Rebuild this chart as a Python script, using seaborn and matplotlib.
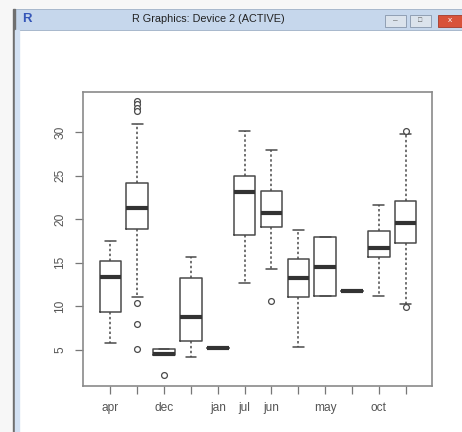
import numpy as np
import pandas as pd
import matplotlib.pyplot as plt
from matplotlib.patches import Rectangle
import seaborn as sns

sns.set_theme(style='white')
plt.rcParams['font.family'] = ['Liberation Sans', 'DejaVu Sans']

# months in R's (alphabetical) factor order
months = ['apr', 'aug', 'dec', 'feb', 'jan', 'jul', 'jun', 'mar', 'may', 'nov', 'oct', 'sep']
# labels R managed to print (the rest were dropped for overlap)
shown_labels = ['apr', '', 'dec', '', 'jan', 'jul', 'jun', '', 'may', '', 'oct', '']

# five number summaries
lo_whisker = [5.8, 11.1, 4.4, 4.15, 5.2, 12.65, 14.3, 5.26, 11.2, 11.8, 11.2, 10.2]
q1 = [9.3, 18.9, 4.4, 5.95, 5.2, 18.2, 19.1, 11.0, 11.2, 11.8, 15.6, 17.3]
median = [13.3, 21.3, 4.55, 8.75, 5.2, 23.1, 20.7, 13.2, 14.56, 11.8, 16.7, 19.6]
q3 = [15.2, 24.2, 5.07, 13.2, 5.2, 25.0, 23.2, 15.4, 18.0, 11.8, 18.7, 22.1]
hi_whisker = [17.5, 31.0, 5.07, 15.6, 5.2, 30.1, 28.0, 18.8, 18.0, 11.8, 21.6, 29.75]

# outliers
out_month = ['aug', 'aug', 'aug', 'aug', 'aug', 'aug', 'aug', 'dec', 'jun', 'sep', 'sep']
out_value = [33.6, 33.2, 32.8, 32.5, 10.4, 7.9, 5.1, 2.1, 10.6, 30.1, 9.85]

# 7 points per month: with linear quantiles q1/median/q3 come out exactly
rows = []
for i, m in enumerate(months):
    for v in [lo_whisker[i], q1[i], q1[i], median[i], q3[i], q3[i], hi_whisker[i]]:
        rows.append((m, v))
df = pd.DataFrame(rows, columns=['month', 'temp'])

fig = plt.figure(figsize=(4.62, 4.32), dpi=100)

# fake R window chrome
W, H = 462.0, 432.0
fig.patches.append(Rectangle((0, 0), 1, 1, transform=fig.transFigure, color='#f7f7f7', zorder=-10))
fig.patches.append(Rectangle((13 / W, 0), 1, (H - 9) / H, transform=fig.transFigure, color='white', zorder=-9))
fig.patches.append(Rectangle((13 / W, (H - 30) / H), 1, 21 / H, transform=fig.transFigure,
                             facecolor='#c6d7ec', edgecolor='#9fb0c6', lw=0.6, zorder=-8))
fig.patches.append(Rectangle((13 / W, 0), 1.6 / W, (H - 9) / H, transform=fig.transFigure, color='#6f6f6f', zorder=-7))
fig.patches.append(Rectangle((14.6 / W, 0), 4.5 / W, (H - 30) / H, transform=fig.transFigure, color='#d3e1f3', zorder=-7))
fig.patches.append(Rectangle((385 / W, (H - 27) / H), 21 / W, 12 / H, transform=fig.transFigure,
                             facecolor='#dbe3ec', edgecolor='#8796ab', lw=0.6, zorder=-6))
fig.patches.append(Rectangle((410 / W, (H - 27) / H), 21 / W, 12 / H, transform=fig.transFigure,
                             facecolor='#dbe3ec', edgecolor='#8796ab', lw=0.6, zorder=-6))
fig.patches.append(Rectangle((438 / W, (H - 27) / H), 30 / W, 12 / H, transform=fig.transFigure,
                             facecolor='#d8523a', edgecolor='#a33a2a', lw=0.6, zorder=-6))
fig.text(27 / W, (H - 19.5) / H, 'R', color='#3556b8', fontsize=9.5, fontweight='bold', ha='center', va='center')
fig.text(208 / W, (H - 19.5) / H, 'R Graphics: Device 2 (ACTIVE)', color='#222222', fontsize=7.8,
         ha='center', va='center')
fig.text(395.5 / W, (H - 21) / H, '\u2013', color='#555555', fontsize=6, ha='center', va='center')
fig.text(420.5 / W, (H - 21) / H, '\u25a1', color='#555555', fontsize=5, ha='center', va='center')
fig.text(450 / W, (H - 21) / H, 'x', color='white', fontsize=6, ha='center', va='center')

ax = fig.add_axes([83 / W, (H - 385.7) / H, (432 - 83) / W, (385.7 - 92.3) / H])

line_col = '#4a4a4a'
sns.boxplot(data=df, x='month', y='temp', order=months, whis=(0, 100), width=0.8,
            fill=False, color=line_col, linecolor=line_col, linewidth=1.1, ax=ax,
            medianprops=dict(color='#333333', linewidth=3, solid_capstyle='butt'),
            whiskerprops=dict(linestyle=(0, (1.6, 1.6))))
sns.stripplot(x=out_month, y=out_value, order=months, jitter=False, color='white',
              edgecolor=line_col, linewidth=0.9, size=4.2, ax=ax, zorder=5)

ax.set_xlim(-1.02, 11.98)
ax.set_ylim(0.85, 34.6)
ax.set_xlabel('')
ax.set_ylabel('')
ax.set_xticks(range(len(months)))
ax.set_xticklabels(shown_labels)
ax.set_yticks([5, 10, 15, 20, 25, 30])
ax.set_yticklabels(['5', '10', '15', '20', '25', '30'], rotation=90, va='center')
ax.tick_params(axis='both', direction='out', length=6, width=0.9, color='#777777',
               labelcolor='#555555', labelsize=8.6, pad=6, bottom=True, left=True)
for s in ax.spines.values():
    s.set_color('#8a8a8a')
    s.set_linewidth(1.2)
ax.set_facecolor('white')

fig.savefig('out.png', dpi=100)
